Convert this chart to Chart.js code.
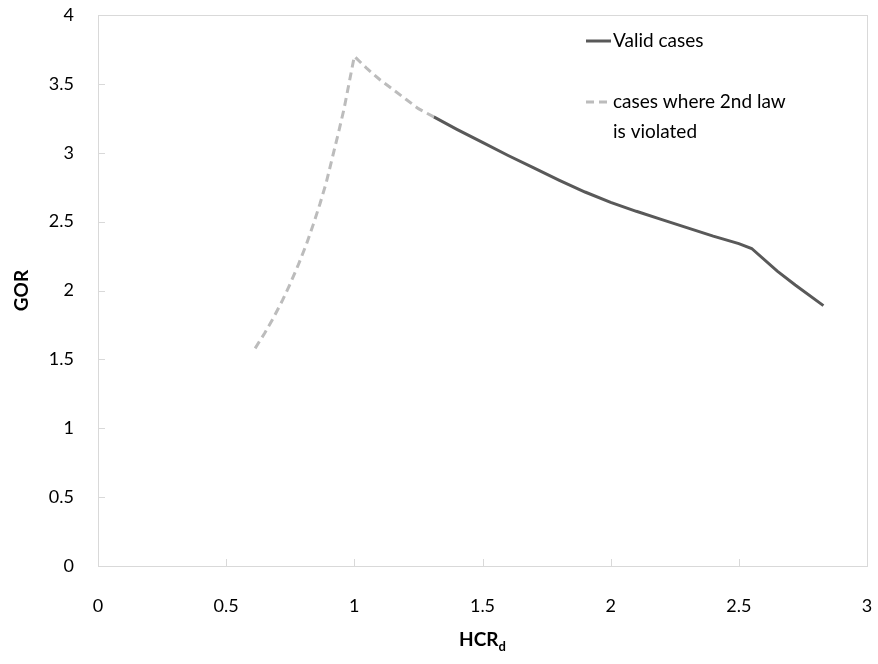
<!DOCTYPE html>
<html>
<head>
<meta charset="utf-8">
<script src="https://cdn.jsdelivr.net/npm/chart.js@4/dist/chart.umd.min.js"></script>
<style>
    html, body { margin: 0; padding: 0; background: #fff; }
    #wrap { width: 878px; height: 664px; }
</style>
</head>
<body>
<div id="wrap"><canvas id="gorChart" width="878" height="664"></canvas></div>
<script>
// --- Data ---
const validHCR = [1.31, 1.4, 1.5, 1.6, 1.7, 1.8, 1.9, 2.0, 2.1, 2.2, 2.3, 2.4, 2.5, 2.55, 2.65, 2.72, 2.83];
const validGOR = [3.26, 3.17, 3.075, 2.98, 2.89, 2.80, 2.715, 2.64, 2.575, 2.515, 2.455, 2.395, 2.34, 2.305, 2.14, 2.04, 1.89];

const violatedHCR = [0.613, 0.65, 0.684, 0.72, 0.75, 0.78, 0.814, 0.84, 0.866, 0.89, 0.915, 0.94, 0.96, 0.98, 1.0, 1.05, 1.1, 1.15, 1.2, 1.25, 1.31];
const violatedGOR = [1.58, 1.69, 1.80, 1.93, 2.05, 2.18, 2.34, 2.48, 2.63, 2.78, 2.97, 3.16, 3.32, 3.51, 3.70, 3.61, 3.53, 3.46, 3.39, 3.32, 3.26];

const xTicks = [0, 0.5, 1, 1.5, 2, 2.5, 3];
const yTicks = [0, 0.5, 1, 1.5, 2, 2.5, 3, 3.5, 4];

const seriesNames = ['Valid cases', 'cases where 2nd law', 'is violated'];

const FONT = 'Lato, "Open Sans", sans-serif';
const VALID_COLOR = '#595959';
const VIOLATED_COLOR = '#bcbcbc';
const AXIS_COLOR = '#d9d9d9';

function toPoints(xs, ys) {
    return xs.map((x, i) => ({ x: x, y: ys[i] }));
}

// Plot frame, inner ticks, axis titles and the legend
const decorations = {
    id: 'decorations',
    beforeDatasetsDraw(chart) {
        const ctx = chart.ctx;
        const area = chart.chartArea;
        const xs = chart.scales.x;
        const ys = chart.scales.y;
        ctx.save();
        ctx.strokeStyle = AXIS_COLOR;
        ctx.lineWidth = 1;
        ctx.strokeRect(area.left + 0.5, area.top + 0.5, area.right - area.left, area.bottom - area.top);
        ctx.beginPath();
        yTicks.forEach(v => {
            const py = Math.round(ys.getPixelForValue(v)) + 0.5;
            ctx.moveTo(area.left, py);
            ctx.lineTo(area.left + 7, py);
        });
        xTicks.forEach(v => {
            const px = Math.round(xs.getPixelForValue(v)) + 0.5;
            ctx.moveTo(px, area.bottom);
            ctx.lineTo(px, area.bottom - 7);
        });
        ctx.stroke();
        ctx.restore();
    },
    afterDraw(chart) {
        const ctx = chart.ctx;
        const area = chart.chartArea;
        ctx.save();
        ctx.fillStyle = '#000';

        // y axis title
        ctx.font = 'bold 19px ' + FONT;
        ctx.textAlign = 'center';
        ctx.textBaseline = 'middle';
        ctx.translate(22, (area.top + area.bottom) / 2);
        ctx.rotate(-Math.PI / 2);
        ctx.fillText('GOR', 0, 0);
        ctx.setTransform(1, 0, 0, 1, 0, 0);

        // x axis title with subscript
        ctx.textAlign = 'left';
        ctx.textBaseline = 'alphabetic';
        ctx.font = 'bold 19px ' + FONT;
        const mainW = ctx.measureText('HCR').width;
        ctx.font = 'bold 13px ' + FONT;
        const subW = ctx.measureText('d').width;
        const startX = (area.left + area.right) / 2 - (mainW + subW) / 2;
        ctx.font = 'bold 19px ' + FONT;
        ctx.fillText('HCR', startX, 646);
        ctx.font = 'bold 13px ' + FONT;
        ctx.fillText('d', startX + mainW, 651);

        // legend
        ctx.font = '19px ' + FONT;
        ctx.textBaseline = 'middle';
        ctx.lineWidth = 3;
        ctx.strokeStyle = VALID_COLOR;
        ctx.beginPath();
        ctx.moveTo(586, 41);
        ctx.lineTo(611, 41);
        ctx.stroke();
        ctx.fillText(seriesNames[0], 613, 41);

        ctx.strokeStyle = VIOLATED_COLOR;
        ctx.setLineDash([8, 5]);
        ctx.beginPath();
        ctx.moveTo(586, 102);
        ctx.lineTo(611, 102);
        ctx.stroke();
        ctx.setLineDash([]);
        ctx.fillText(seriesNames[1], 613, 102);
        ctx.fillText(seriesNames[2], 613, 132);
        ctx.restore();
    }
};

const ctx = document.getElementById('gorChart').getContext('2d');
new Chart(ctx, {
    type: 'line',
    data: {
        datasets: [
            {
                label: 'cases where 2nd law is violated',
                data: toPoints(violatedHCR, violatedGOR),
                borderColor: VIOLATED_COLOR,
                borderWidth: 3,
                borderDash: [8, 5],
                pointRadius: 0,
                tension: 0,
                fill: false
            },
            {
                label: 'Valid cases',
                data: toPoints(validHCR, validGOR),
                borderColor: VALID_COLOR,
                borderWidth: 3,
                pointRadius: 0,
                tension: 0,
                fill: false
            }
        ]
    },
    options: {
        responsive: false,
        animation: false,
        devicePixelRatio: 1,
        layout: { padding: { left: 0, right: 11, top: 15, bottom: 0 } },
        plugins: {
            legend: { display: false },
            tooltip: { enabled: false }
        },
        scales: {
            x: {
                type: 'linear',
                min: 0,
                max: 3,
                afterFit: scale => {
                    scale.height = 98;
                    scale.paddingLeft = 0;
                    scale.paddingRight = 0;
                },
                afterBuildTicks: scale => { scale.ticks = xTicks.map(v => ({ value: v })); },
                grid: { display: false, tickLength: 0 },
                border: { display: true, color: AXIS_COLOR, width: 1 },
                ticks: {
                    font: { family: FONT, size: 18 },
                    color: '#000',
                    padding: 29,
                    maxRotation: 0,
                    callback: v => String(v)
                }
            },
            y: {
                type: 'linear',
                min: 0,
                max: 4,
                afterFit: scale => {
                    scale.width = 98;
                    scale.paddingTop = 0;
                    scale.paddingBottom = 0;
                },
                afterBuildTicks: scale => { scale.ticks = yTicks.map(v => ({ value: v })); },
                grid: { display: false, tickLength: 0 },
                border: { display: true, color: AXIS_COLOR, width: 1 },
                ticks: {
                    font: { family: FONT, size: 18 },
                    color: '#000',
                    padding: 24,
                    callback: v => String(v)
                }
            }
        }
    },
    plugins: [decorations]
});
</script>
</body>
</html>
